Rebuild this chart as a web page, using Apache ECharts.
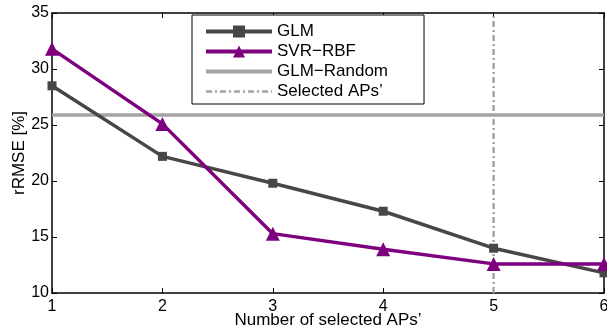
<!DOCTYPE html>
<html>
<head>
<meta charset="utf-8">
<script src="https://cdn.jsdelivr.net/npm/echarts@6/dist/echarts.min.js"></script>
<style>
html, body { margin: 0; padding: 0; background: #fff; }
#main { width: 607px; height: 331px; }
</style>
</head>
<body>
<div id="main"></div>
<script>
// number of selected APs
var apCounts = [1, 2, 3, 4, 5, 6];
var glm = [28.5, 22.2, 19.8, 17.3, 14.0, 11.8];
var svrRbf = [31.8, 25.1, 15.3, 13.9, 12.6, 12.6];
var glmRandom = 25.9;
var selectedAps = 5;
var yTicks = [10, 15, 20, 25, 30, 35];

var font = 'Liberation Sans';

function pairs(xs, ys) {
	return xs.map(function (x, i) { return [x, ys[i]]; });
}

var chart = echarts.init(document.getElementById('main'));

var option = {
	animation: false,
	textStyle: { fontFamily: font },
	grid: { left: 52, right: 3, top: 13, bottom: 38, containLabel: false, outerBoundsMode: 'none' },
	legend: {
		orient: 'vertical',
		left: 192,
		top: 15,
		padding: [8, 36, 4, 12],
		itemGap: 3,
		itemWidth: 66,
		itemHeight: 15,
		borderColor: '#000',
		borderWidth: 1,
		backgroundColor: '#fff',
		lineStyle: { width: 4 },
		textStyle: { fontSize: 17, color: '#000', fontFamily: font },
		data: [
			'GLM',
			'SVR\u2212RBF',
			'GLM\u2212Random',
			{ name: 'Selected APs\u2019', lineStyle: { width: 2.5 } }
		]
	},
	xAxis: [{
		type: 'value',
		min: apCounts[0],
		max: apCounts[apCounts.length - 1],
		interval: 1,
		name: 'Number of selected APs\u2019',
		nameLocation: 'middle',
		nameGap: 19,
		nameMoveOverlap: false,
		nameTextStyle: { fontSize: 17, color: '#000' },
		axisLine: { lineStyle: { color: '#000', width: 1.5 } },
		axisTick: { inside: true, length: 5, lineStyle: { color: '#000' } },
		axisLabel: { fontSize: 16, color: '#000', margin: 6 },
		splitLine: { show: false }
	}, {
		type: 'value',
		position: 'top',
		min: apCounts[0],
		max: apCounts[apCounts.length - 1],
		interval: 1,
		axisLine: { show: true, onZero: false, lineStyle: { color: '#000', width: 1.5 } },
		axisTick: { inside: true, length: 5, lineStyle: { color: '#000' } },
		axisLabel: { show: false },
		splitLine: { show: false }
	}],
	yAxis: [{
		type: 'value',
		min: yTicks[0],
		max: yTicks[yTicks.length - 1],
		interval: 5,
		name: 'rRMSE [%]',
		nameLocation: 'middle',
		nameGap: 24,
		nameMoveOverlap: false,
		nameTextStyle: { fontSize: 17, color: '#000' },
		axisLine: { show: true, lineStyle: { color: '#000', width: 1.5 } },
		axisTick: { show: true, inside: true, length: 5, lineStyle: { color: '#000' } },
		axisLabel: { fontSize: 16, color: '#000', margin: 3 },
		splitLine: { show: false }
	}, {
		type: 'value',
		position: 'right',
		min: yTicks[0],
		max: yTicks[yTicks.length - 1],
		interval: 5,
		axisLine: { show: true, onZero: false, lineStyle: { color: '#000', width: 1.5 } },
		axisTick: { show: true, inside: true, length: 5, lineStyle: { color: '#000' } },
		axisLabel: { show: false },
		splitLine: { show: false }
	}],
	series: [{
		name: 'GLM',
		type: 'line',
		data: pairs(apCounts, glm),
		symbol: 'rect',
		symbolSize: 9,
		itemStyle: { color: '#474747' },
		lineStyle: { color: '#474747', width: 3.5 },
		z: 4
	}, {
		name: 'SVR\u2212RBF',
		type: 'line',
		data: pairs(apCounts, svrRbf),
		symbol: 'triangle',
		symbolSize: 14,
		itemStyle: { color: '#7f007f' },
		lineStyle: { color: '#7f007f', width: 3.5 },
		z: 5
	}, {
		name: 'GLM\u2212Random',
		type: 'line',
		data: [[apCounts[0], glmRandom], [apCounts[apCounts.length - 1], glmRandom]],
		symbol: 'none',
		itemStyle: { color: '#a3a3a3', opacity: 0 },
		lineStyle: { color: '#a3a3a3', width: 3.5, opacity: 1 },
		z: 3
	}, {
		name: 'Selected APs\u2019',
		type: 'line',
		data: [[selectedAps, yTicks[0]], [selectedAps, yTicks[yTicks.length - 1]]],
		symbol: 'none',
		itemStyle: { color: '#a3a3a3', opacity: 0 },
		lineStyle: { color: '#a3a3a3', width: 2.5, type: [6, 3, 2, 3], opacity: 1 },
		z: 2
	}]
};

chart.setOption(option);
</script>
</body>
</html>
